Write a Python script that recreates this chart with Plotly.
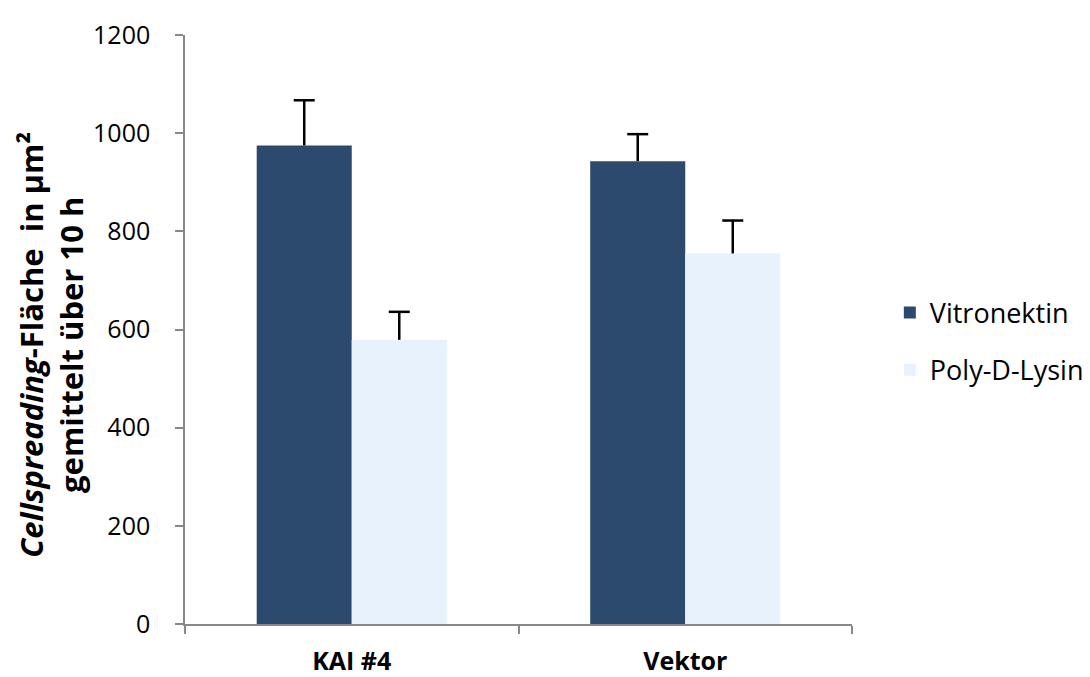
import plotly.graph_objects as go

categories = ["KAI #4", "Vektor"]
series_names = ["Vitronektin", "Poly-D-Lysin"]
vitronektin = [975, 943]
vitronektin_err = [92, 55]
polylysin = [579, 755]
polylysin_err = [57, 67]
y_ticks = [0, 200, 400, 600, 800, 1000, 1200]
y_title = "<b><i>Cellspreading</i>-Fläche  in µm²<br>gemittelt über 10 h</b>"

colors = ["#2C4A6E", "#E8F2FC"]
bargap = 0.43
pos = list(range(len(categories)))
half = (1 - bargap) / 4.0

fig = go.Figure()
series = [
    (series_names[0], vitronektin, vitronektin_err, colors[0], -half),
    (series_names[1], polylysin, polylysin_err, colors[1], half),
]
for name, vals, errs, col, off in series:
    fig.add_trace(go.Bar(
        x=pos, y=vals, name=name, legendgroup=name,
        marker=dict(color=col, line=dict(width=0)),
    ))
for name, vals, errs, col, off in series:
    fig.add_trace(go.Scatter(
        x=[p + off for p in pos], y=[v + e for v, e in zip(vals, errs)],
        mode="markers", showlegend=False, hoverinfo="skip",
        marker=dict(symbol="line-ew", size=15, color="black",
                    line=dict(color="black", width=2.5)),
        error_y=dict(type="data", symmetric=False, array=[0] * len(errs),
                     arrayminus=errs, color="black", thickness=2.5, width=0),
    ))

fig.add_annotation(
    text=y_title, textangle=-90, xref="paper", yref="paper",
    x=0, y=0.474, xanchor="center", yanchor="middle", xshift=-134,
    showarrow=False, font=dict(size=31, family="Open Sans", color="black"),
)

fig.update_layout(
    width=1082, height=669,
    margin=dict(l=177, r=238, t=27, b=53),
    plot_bgcolor="white", paper_bgcolor="white",
    barmode="group", bargap=bargap, bargroupgap=0,
    font=dict(family="Open Sans", size=24, color="black"),
    showlegend=True,
    legend=dict(xref="container", yref="container", x=0.815, y=0.5015,
                xanchor="left", yanchor="middle",
                tracegroupgap=19, font=dict(size=27, family="Open Sans"),
                itemwidth=30),
    xaxis=dict(range=[-0.5, len(categories) - 0.5], automargin=False,
               showline=True, linecolor="#888888", linewidth=1.5,
               showgrid=False, zeroline=False,
               tickvals=pos, ticktext=["<b>" + c + "</b>" for c in categories],
               ticks="", ticklabelstandoff=14,
               tickfont=dict(family="Open Sans", size=25, color="black"),
               minor=dict(tickvals=[p - 0.5 for p in pos] + [pos[-1] + 0.5],
                          ticks="outside", ticklen=8, tickcolor="#888888",
                          tickwidth=1.5, showgrid=False)),
    yaxis=dict(range=[0, 1200], tickvals=y_ticks, showline=True, automargin=False,
               linecolor="#888888", linewidth=1.5, ticks="outside", ticklen=8,
               tickcolor="#888888", tickwidth=1.5, showgrid=False, zeroline=False,
               tickfont=dict(size=25), ticklabelstandoff=20),
)

fig.write_html("out.html")
